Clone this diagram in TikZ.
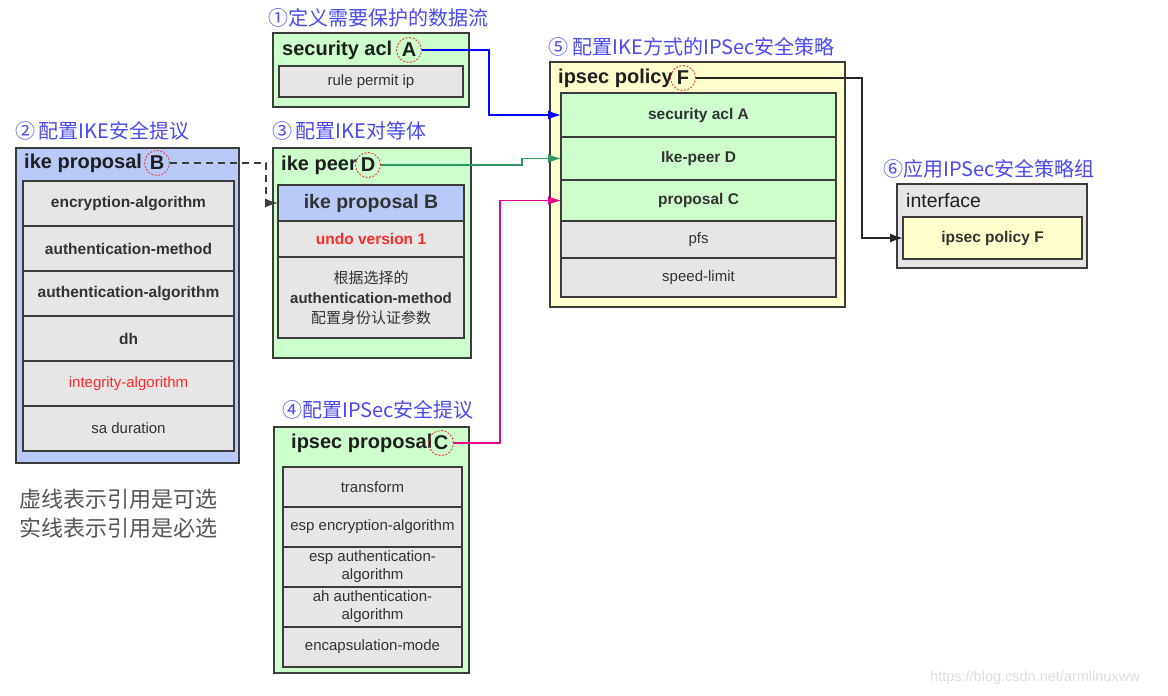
\documentclass[tikz,border=0pt]{standalone}
\usepackage{fontspec}
\setmainfont{Liberation Sans}
\newfontfamily\cjk{Noto Sans CJK SC}
\usetikzlibrary{arrows.meta, positioning}
\definecolor{edge}{HTML}{3C3C3C}
\definecolor{lightgreen}{HTML}{CCFFCC}
\definecolor{lightblue}{HTML}{B9CAF9}
\definecolor{lightgrey}{HTML}{E6E6E6}
\definecolor{lightyellow}{HTML}{FFFFCC}
\definecolor{titleblue}{HTML}{4A4AF0}
\definecolor{markred}{HTML}{E8403C}
\definecolor{textred}{HTML}{FF2A2A}
\definecolor{peergreen}{HTML}{2E9A62}
\definecolor{notegrey}{HTML}{555555}
\tikzset{
  panel/.style={rectangle, draw=edge, line width=1.6pt, fill=lightgreen, outer sep=0pt,
    inner sep=0pt, anchor=north west},
  panelblue/.style={panel, fill=lightblue},
  panelyellow/.style={panel, fill=lightyellow},
  panelgrey/.style={panel, fill=lightgrey},
  field/.style={rectangle, draw=edge, line width=1.3pt, fill=lightgrey, outer sep=0pt,
    inner sep=0pt, align=center, text=black!80, font=\fontsize{15}{18}\selectfont},
  fieldb/.style={field, font=\fontsize{15.5}{18}\selectfont\bfseries},
  fieldgreen/.style={fieldb, fill=lightgreen},
  head/.style={anchor=west, inner sep=0pt, text=black!88, font=\fontsize{20}{23}\selectfont\bfseries},
  refmark/.style={circle, draw=markred, dash pattern=on 2pt off 1.5pt, line width=0.9pt,
    minimum size=25pt, inner sep=0pt, text=black!88, font=\fontsize{20}{23}\selectfont\bfseries},
  steptitle/.style={anchor=west, inner sep=0pt, text=titleblue, font=\fontsize{20}{23}\selectfont\cjk},
  link/.style={-{Latex[length=13pt, width=9pt]}, line width=1.4pt},
}

\begin{document}
\begin{tikzpicture}[x=1pt, y=-1pt]
\path[use as bounding box, fill=white] (0,0) rectangle (1168,696);
% step titles
\node[steptitle] (t1) at (268,18) {①定义需要保护的数据流};
\node[steptitle] (t2) at (15,131) {②\,配置IKE安全提议};
\node[steptitle] (t3) at (272,131) {③\,配置IKE对等体};
\node[steptitle] (t4) at (282,410) {④配置IPSec安全提议};
\node[steptitle] (t5) at (548,47) {⑤ 配置IKE方式的IPSec安全策略};
\node[steptitle] (t6) at (883,169) {⑥应用IPSec安全策略组};

% 1: security acl
\node[panel, minimum width=196pt, minimum height=74pt] (aclBox) at (273,33) {};
\node[head] (aclHead) at (282,50) {security acl};
\node[refmark] (markA) at (409,50) {A};
\node[field, anchor=north west, minimum width=184pt, minimum height=31pt] (aclRule) at (279,66) {rule permit ip};

% 2: ike proposal
\node[panelblue, minimum width=223pt, minimum height=315pt] (propBox) at (16,148) {};
\node[head] (propHead) at (24,163) {ike proposal};
\node[refmark] (markB) at (157,163) {B};
\node[fieldb, anchor=north west, minimum width=211pt, minimum height=45pt] (propEnc) at (23,181) {encryption-algorithm};
\node[fieldb, below=0pt of propEnc, minimum width=211pt, minimum height=45pt] (propMeth) {authentication-method};
\node[fieldb, below=0pt of propMeth, minimum width=211pt, minimum height=45pt] (propAuth) {authentication-algorithm};
\node[fieldb, below=0pt of propAuth, minimum width=211pt, minimum height=45pt] (propDh) {dh};
\node[field, below=0pt of propDh, minimum width=211pt, minimum height=45pt, text=textred] (propInt) {integrity-algorithm};
\node[field, below=0pt of propInt, minimum width=211pt, minimum height=45pt] (propSa) {sa duration};

% 3: ike peer
\node[panel, minimum width=198pt, minimum height=210pt] (peerBox) at (273,148) {};
\node[head] (peerHead) at (281,165) {ike peer};
\node[refmark] (markD) at (368,165) {D};
\node[fieldb, anchor=north west, fill=lightblue, minimum width=186pt, minimum height=36pt,
  font=\fontsize{19.5}{22}\selectfont\bfseries] (peerB) at (278,185) {ike proposal B};
\node[fieldb, below=0pt of peerB, minimum width=186pt, minimum height=36pt, text=textred] (peerUndo) {undo version 1};
\node[field, below=0pt of peerUndo, minimum width=186pt, minimum height=81pt,
  font=\fontsize{15}{20}\selectfont] (peerAuth)
  {{\cjk 根据选择的}\\\textbf{authentication-method}\\{\cjk 配置身份认证参数}};

% 4: ipsec proposal
\node[panel, minimum width=195pt, minimum height=246pt] (ipBox) at (274,427) {};
\node[head] (ipHead) at (291,443) {ipsec proposal};
\node[refmark] (markC) at (441,443) {C};
\node[field, anchor=north west, minimum width=179pt, minimum height=40pt] (ipTrans) at (283,467) {transform};
\node[field, below=0pt of ipTrans, minimum width=179pt, minimum height=40pt] (ipEnc) {esp encryption-algorithm};
\node[field, below=0pt of ipEnc, minimum width=179pt, minimum height=40pt] (ipEspAuth) {esp authentication-\\algorithm};
\node[field, below=0pt of ipEspAuth, minimum width=179pt, minimum height=40pt] (ipAhAuth) {ah authentication-\\algorithm};
\node[field, below=0pt of ipAhAuth, minimum width=179pt, minimum height=40pt] (ipMode) {encapsulation-mode};

% 5: ipsec policy
\node[panelyellow, minimum width=295pt, minimum height=245pt] (polBox) at (550,62) {};
\node[head] (polHead) at (558,78) {ipsec policy};
\node[refmark] (markF) at (683,78) {F};
\node[fieldgreen, anchor=north west, minimum width=275pt, minimum height=44pt] (polA) at (561,93) {security acl A};
\node[fieldgreen, below=0pt of polA, minimum width=275pt, minimum height=43pt] (polD) {Ike-peer D};
\node[fieldgreen, below=0pt of polD, minimum width=275pt, minimum height=41pt] (polC) {proposal C};
\node[field, below=0pt of polC, minimum width=275pt, minimum height=37pt] (polPfs) {pfs};
\node[field, below=0pt of polPfs, minimum width=275pt, minimum height=39pt] (polSpeed) {speed-limit};

% 6: interface
\node[panelgrey, minimum width=190pt, minimum height=84pt] (ifBox) at (897,184) {};
\node[head, font=\fontsize{19.5}{22}\selectfont] (ifHead) at (906,201) {interface};
\node[fieldb, anchor=north west, fill=lightyellow, minimum width=179pt, minimum height=42pt] (ifF) at (903,217) {ipsec policy F};

% references
\draw[link, blue] (markA.east) -- ++(67,0) |- (polA.west);
\draw[link, edge, dash pattern=on 7pt off 5pt] (markB.east) -- ++(96,0) |- (peerB.west);
\draw[link, peergreen] (markD.east) -- ++(141,0) |- (polD.west);
\draw[link, magenta] (markC.east) -- ++(46,0) |- (polC.west);
\draw[link, black!85] (markF.east) -- ++(166,0) |- (ifF.west);

% legend
\node[anchor=west, align=left, inner sep=0pt, text=notegrey, font=\fontsize{22}{29}\selectfont\cjk] (legend) at (19,514)
  {虚线表示引用是可选\\实线表示引用是必选};
\node[anchor=west, inner sep=0pt, text=black!13, font=\fontsize{14.5}{17}\selectfont] (wm) at (930,678) {https://blog.csdn.net/armlinuxww};
\end{tikzpicture}
\end{document}
